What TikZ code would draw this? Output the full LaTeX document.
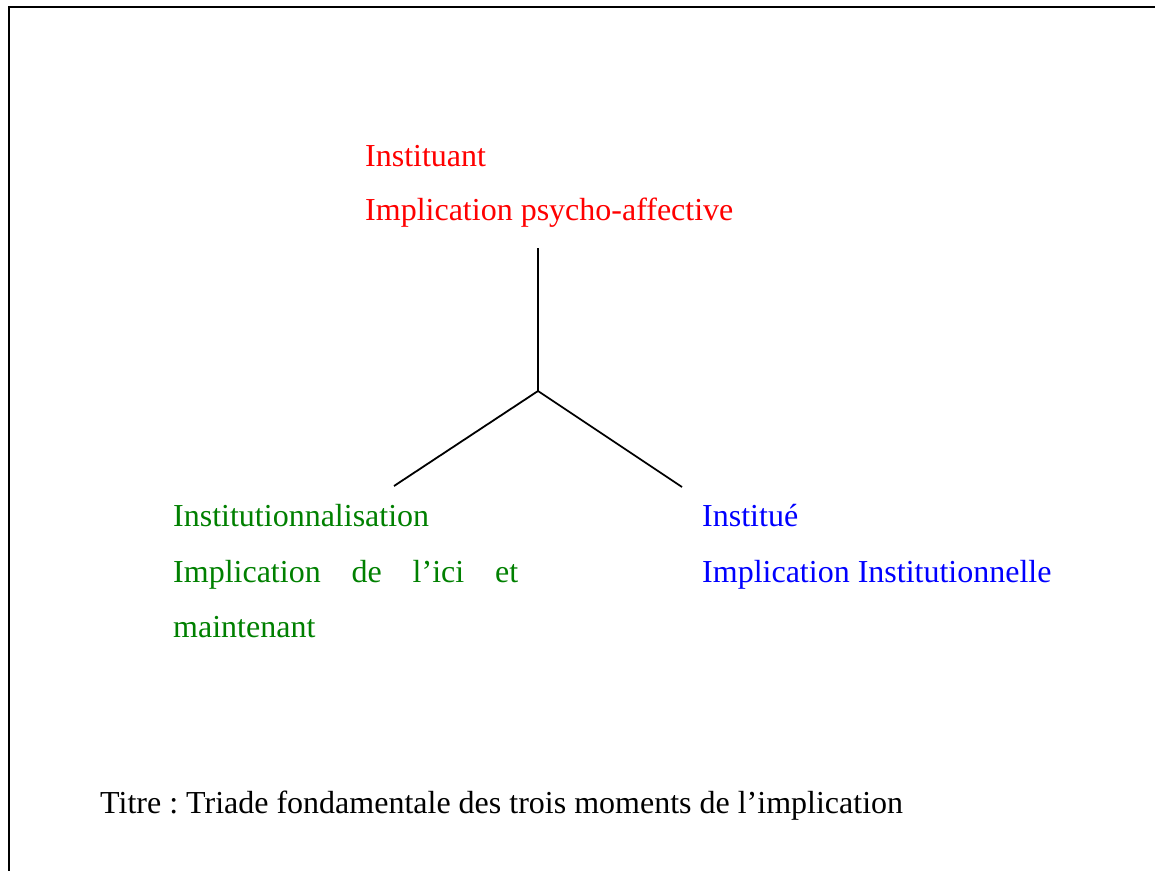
\documentclass[tikz,border=0pt]{standalone}
\usepackage{fontspec}
\setmainfont{Liberation Serif}
\frenchspacing
\definecolor{redtxt}{RGB}{255,0,0}
\definecolor{greentxt}{RGB}{0,128,0}
\definecolor{bluetxt}{RGB}{0,0,255}
\begin{document}
\begin{tikzpicture}[x=1pt,y=-1pt,
  label/.style={anchor=base west,inner sep=0pt,font=\fontsize{32}{38}\selectfont},
  branch/.style={line width=1.8pt,black}]
\useasboundingbox (0,0) rectangle (1155,870);
% open frame: left and top edges only
\draw[line width=2.2pt] (9,875) -- (9,7) -- (1165,7);
% red moment
\node[label,text=redtxt] (ra) at (365,166) {Instituant};
\node[label,text=redtxt] (rb) at (365,220) {Implication psycho-affective};
% green moment
\node[label,text=greentxt] (ga) at (173,526) {Institutionnalisation};
\node[label,text=greentxt] (gb) at (173,582) {\hbox to 345pt{Implication\hfill de\hfill l’ici\hfill et}};
\node[label,text=greentxt] (gc) at (173,637) {maintenant};
% blue moment
\node[label,text=bluetxt] (ba) at (702,526) {Institué};
\node[label,text=bluetxt] (bb) at (702,582) {Implication Institutionnelle};
% the three branches
\coordinate (top) at (538,248);
\coordinate (hub) at (538,391);
\coordinate (lend) at (394,486);
\coordinate (rend) at (682,487);
\draw[branch] (top) -- (hub);
\draw[branch] (hub) -- (lend);
\draw[branch] (hub) -- (rend);
% caption
\node[label] (title) at (100,813) {Titre : Triade fondamentale des trois moments de l’implication};
\end{tikzpicture}
\end{document}
